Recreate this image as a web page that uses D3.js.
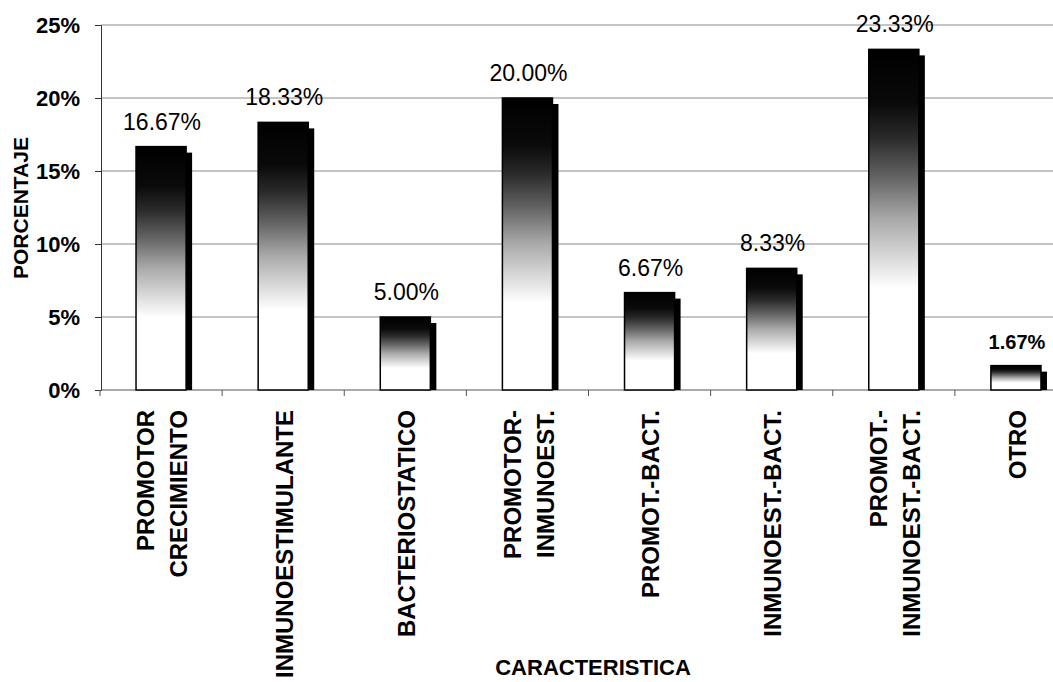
<!DOCTYPE html>
<html>
<head>
<meta charset="utf-8">
<script src="https://cdn.jsdelivr.net/npm/d3@7"></script>
<style>
  html, body { margin: 0; padding: 0; background: #fff; }
  svg { display: block; font-family: "Liberation Sans", Arial, sans-serif; }
</style>
</head>
<body>
<svg id="chart" width="1053" height="682"></svg>
<script>
const categories = ["PROMOTOR CRECIMIENTO", "INMUNOESTIMULANTE", "BACTERIOSTATICO", "PROMOTOR-INMUNOEST.",
  "PROMOT.-BACT.", "INMUNOEST.-BACT.", "PROMOT.-INMUNOEST.-BACT.", "OTRO"];
const labelLines = [["PROMOTOR", "CRECIMIENTO"], ["INMUNOESTIMULANTE"], ["BACTERIOSTATICO"], ["PROMOTOR-", "INMUNOEST."],
  ["PROMOT.-BACT."], ["INMUNOEST.-BACT."], ["PROMOT.-", "INMUNOEST.-BACT."], ["OTRO"]];
const values = [16.67, 18.33, 5.00, 20.00, 6.67, 8.33, 23.33, 1.67];
const yTicks = [0, 5, 10, 15, 20, 25];
const yTitle = "PORCENTAJE";
const xTitle = "CARACTERISTICA";

const svg = d3.select("#chart");
const mLeft = 101, mRight = 1077, mTop = 25, mBottom = 390;

const x = d3.scaleBand().domain(categories).range([mLeft - 1, mRight]).paddingInner(0.59).paddingOuter(0.295);
const y = d3.scaleLinear().domain([0, 25]).range([mBottom, mTop]);

// gradient
const defs = svg.append("defs");
const grad = defs.append("linearGradient").attr("id", "barGrad")
  .attr("x1", 0).attr("y1", 1).attr("x2", 0).attr("y2", 0);
[[0, "#ffffff"], [0.3, "#ffffff"], [0.38, "#dddddd"], [0.5, "#aaaaaa"], [0.62, "#666666"], [0.74, "#2a2a2a"], [0.84, "#0a0a0a"], [1, "#000000"]]
  .forEach(([o, c]) => grad.append("stop").attr("offset", o).attr("stop-color", c));

// gridlines
svg.append("g").selectAll("line").data(yTicks.filter(d => d > 0)).join("line")
  .attr("x1", mLeft).attr("x2", 1053)
  .attr("y1", d => y(d)).attr("y2", d => y(d))
  .attr("stroke", "#8a8a8a").attr("stroke-width", 1);

// y axis
const yAxis = svg.append("g").attr("transform", `translate(${mLeft},0)`)
  .call(d3.axisLeft(y).tickValues(yTicks).tickFormat(d => d + "%").tickSize(6).tickPadding(15));
yAxis.select(".domain").attr("stroke", "#333");
yAxis.selectAll(".tick line").attr("stroke", "#333");
yAxis.selectAll("text").attr("font-size", 22).attr("font-weight", "bold")
  .attr("font-family", "Liberation Sans, Arial, sans-serif").attr("fill", "#000");

// x axis baseline
svg.append("line").attr("x1", mLeft).attr("x2", 1053).attr("y1", mBottom).attr("y2", mBottom)
  .attr("stroke", "#555").attr("stroke-width", 1);
const step = x.step();
svg.append("g").selectAll("line").data(categories).join("line")
  .attr("x1", d => x(d) - step * x.paddingInner() / 2)
  .attr("x2", d => x(d) - step * x.paddingInner() / 2)
  .attr("y1", mBottom).attr("y2", mBottom + 6)
  .attr("stroke", "#555");

// bars
const bw = x.bandwidth();
const g = svg.append("g");
categories.forEach((c, i) => {
  const v = values[i];
  g.append("rect")
    .attr("x", x(c) + 6).attr("y", y(v) + 6)
    .attr("width", bw).attr("height", Math.max(0, mBottom - y(v) - 6))
    .attr("fill", "#000");
  g.append("rect")
    .attr("x", x(c)).attr("y", y(v))
    .attr("width", bw).attr("height", mBottom - y(v))
    .attr("fill", "url(#barGrad)")
    .attr("stroke", "#000").attr("stroke-width", 1.5);
  g.append("text")
    .attr("x", x(c) + bw / 2 + 1).attr("y", y(v) - 17)
    .attr("text-anchor", "middle")
    .attr("font-size", i === categories.length - 1 ? 20 : 23)
    .attr("font-weight", i === categories.length - 1 ? "bold" : "normal")
    .attr("fill", "#000")
    .text(v.toFixed(2) + "%");
});

// x labels
categories.forEach((c, i) => {
  const lines = labelLines[i];
  const cx = x(c) + bw / 2;
  lines.forEach((ln, j) => {
    const off = (j - (lines.length - 1) / 2) * 33;
    svg.append("text")
      .attr("transform", `translate(${cx + off + 1},410) rotate(-90)`)
      .attr("text-anchor", "end")
      .attr("dy", "0.36em")
      .attr("font-size", 24)
      .attr("font-weight", "bold")
      .attr("fill", "#000")
      .text(ln);
  });
});

// axis titles
svg.append("text")
  .attr("transform", "translate(20,208) rotate(-90)")
  .attr("text-anchor", "middle").attr("dy", "0.36em")
  .attr("font-size", 21).attr("font-weight", "bold").attr("fill", "#000")
  .text(yTitle);

svg.append("text")
  .attr("x", 593).attr("y", 675)
  .attr("text-anchor", "middle")
  .attr("font-size", 22).attr("font-weight", "bold").attr("fill", "#000")
  .text(xTitle);
</script>
</body>
</html>
